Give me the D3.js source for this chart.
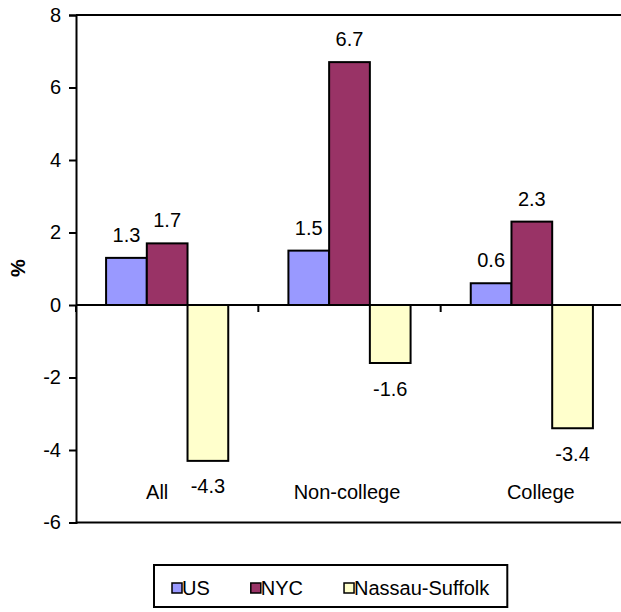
<!DOCTYPE html>
<html>
<head>
<meta charset="utf-8">
<script src="https://cdn.jsdelivr.net/npm/d3@7"></script>
<style>
  body { margin: 0; background: #fff; }
  svg { display: block; }
  text { font-family: "Liberation Sans", Arial, sans-serif; fill: #000; }
</style>
</head>
<body>
<svg id="chart" width="621" height="612"></svg>
<script>
// Change in employment by education group, percent
const categories = ["All", "Non-college", "College"];
const seriesNames = ["US", "NYC", "Nassau-Suffolk"];
const usValues = [1.3, 1.5, 0.6];
const nycValues = [1.7, 6.7, 2.3];
const nassauSuffolkValues = [-4.3, -1.6, -3.4];
const yTicks = [-6, -4, -2, 0, 2, 4, 6, 8];
const yTitle = "%";

const seriesValues = [usValues, nycValues, nassauSuffolkValues];
const colors = ["#9999FF", "#993366", "#FFFFCC"];
const fontSize = 20;

// plain hyphen for negative numbers
const locale = d3.formatLocale({ decimal: ".", thousands: ",", grouping: [3], currency: ["$", ""], minus: "-" });
const fmtTick = locale.format("d");
const fmtVal = locale.format(".1f");

const svg = d3.select("#chart");

// plot area
const plotLeft = 76, plotRight = 623, plotTop = 15, plotBottom = 522.5;

const y = d3.scaleLinear().domain([-6, 8]).range([plotBottom, plotTop]);
const x0 = d3.scaleBand().domain(categories).range([plotLeft, plotRight]).padding(0);
const bw = x0.bandwidth();
const x1 = d3.scaleBand().domain(seriesNames).range([bw * 0.165, bw * 0.835]).padding(0);

const rows = categories.map((c, i) => ({
  cat: c,
  vals: seriesNames.map((s, j) => ({ series: s, idx: j, value: seriesValues[j][i] }))
}));

// frame lines at top and bottom of the plot area
svg.append("line").attr("x1", plotLeft).attr("x2", plotRight).attr("y1", plotTop).attr("y2", plotTop)
  .attr("stroke", "#000").attr("stroke-width", 2);
svg.append("line").attr("x1", plotLeft).attr("x2", plotRight).attr("y1", plotBottom).attr("y2", plotBottom)
  .attr("stroke", "#000").attr("stroke-width", 2);

// bars
const groups = svg.selectAll("g.cat").data(rows).join("g")
  .attr("class", "cat")
  .attr("transform", d => `translate(${x0(d.cat)},0)`);

groups.selectAll("rect").data(d => d.vals).join("rect")
  .attr("x", d => x1(d.series))
  .attr("y", d => y(Math.max(0, d.value)))
  .attr("width", x1.bandwidth())
  .attr("height", d => Math.abs(y(d.value) - y(0)))
  .attr("fill", d => colors[d.idx])
  .attr("stroke", "#000")
  .attr("stroke-width", 2);

// value labels
groups.selectAll("text.val").data(d => d.vals).join("text")
  .attr("class", "val")
  .attr("x", d => x1(d.series) + x1.bandwidth() / 2)
  .attr("y", d => d.value >= 0 ? y(d.value) - 16 : y(d.value) + 32.5)
  .attr("text-anchor", "middle")
  .attr("font-size", fontSize)
  .text(d => fmtVal(d.value));

// zero line with category separators
svg.append("line").attr("x1", plotLeft).attr("x2", plotRight).attr("y1", y(0)).attr("y2", y(0))
  .attr("stroke", "#000").attr("stroke-width", 2);
const sepX = categories.map(c => x0(c)).concat([plotRight]);
svg.selectAll("line.sep").data(sepX).join("line")
  .attr("class", "sep")
  .attr("x1", d => d).attr("x2", d => d)
  .attr("y1", y(0)).attr("y2", y(0) + 7)
  .attr("stroke", "#000").attr("stroke-width", 2);

// category labels sit low in the plot
const catLabelDx = [-10, -2.5, 9];
svg.selectAll("text.catlabel").data(categories).join("text")
  .attr("class", "catlabel")
  .attr("x", (d, i) => x0(d) + bw / 2 + catLabelDx[i])
  .attr("y", 498.5)
  .attr("text-anchor", "middle")
  .attr("font-size", fontSize)
  .text(d => d);

// value axis
const yAxis = svg.append("g")
  .attr("transform", `translate(${plotLeft},0)`)
  .call(d3.axisLeft(y).tickValues(yTicks).tickSize(7).tickPadding(8).tickFormat(fmtTick));
yAxis.select(".domain").attr("stroke", "#000").attr("stroke-width", 2);
yAxis.selectAll(".tick line").attr("stroke", "#000").attr("stroke-width", 2);
yAxis.selectAll(".tick text")
  .attr("font-size", fontSize)
  .attr("font-family", "'Liberation Sans', Arial, sans-serif")
  .attr("fill", "#000");

// axis title
svg.append("text")
  .attr("transform", "translate(25,268) rotate(-90)")
  .attr("text-anchor", "middle")
  .attr("font-size", fontSize)
  .attr("font-weight", "bold")
  .text(yTitle);

// legend
const legX = 154, legY = 565, legH = 42;
const legend = svg.append("g");
const legBox = legend.append("rect")
  .attr("x", legX).attr("y", legY).attr("height", legH)
  .attr("fill", "#fff").attr("stroke", "#000").attr("stroke-width", 2);
let cx = legX + 18;
seriesNames.forEach((s, i) => {
  legend.append("rect")
    .attr("x", cx).attr("y", legY + 18).attr("width", 10).attr("height", 10)
    .attr("fill", colors[i]).attr("stroke", "#000").attr("stroke-width", 1.5);
  const t = legend.append("text")
    .attr("x", cx + 10).attr("y", legY + 30)
    .attr("font-size", fontSize)
    .text(s);
  cx += 10 + t.node().getComputedTextLength() + (i < seriesNames.length - 1 ? 41 : 18);
});
legBox.attr("width", cx - legX);
</script>
</body>
</html>
